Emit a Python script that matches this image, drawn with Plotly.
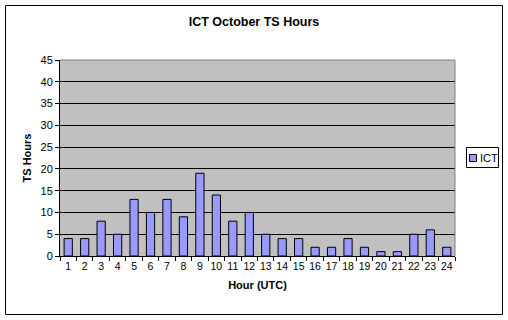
import plotly.graph_objects as go

hours = [str(h) for h in range(1, 25)]
ict = [4, 4, 8, 5, 13, 10, 13, 9, 19, 14, 8, 10, 5, 4, 4, 2, 2, 4, 2, 1, 1, 5, 6, 2]
y_ticks = list(range(0, 50, 5))
series_name = "ICT"

W, H = 508, 320
L, R, T, B = 60, 53, 60, 64
pw, ph = W - L - R, H - T - B

def px(x):
    return (x - L) / pw

def py(y):
    return (H - B - y) / ph

fig = go.Figure()
fig.add_trace(go.Bar(
    x=hours, y=ict, name=series_name,
    marker=dict(color="#9999FF", line=dict(color="black", width=1)),
    width=0.5, showlegend=False,
))

font = "Liberation Sans, Arial, sans-serif"
fig.update_layout(
    width=W, height=H,
    margin=dict(l=L, r=R, t=T, b=B),
    paper_bgcolor="white",
    plot_bgcolor="#C0C0C0",
    font=dict(family=font, size=11, color="black"),
    title=dict(text="<b>ICT October TS Hours</b>", x=0.5, xanchor="center",
               y=1 - 22 / H, yanchor="middle", font=dict(size=12.5)),
    showlegend=False,
    xaxis=dict(
        type="category", showline=True, linecolor="black", linewidth=1,
        ticks="outside", ticklen=4, tickcolor="black", tickson="boundaries",
        showgrid=False, tickangle=0,
        title=dict(text="<b>Hour (UTC)</b>", standoff=10, font=dict(size=11)),
        tickfont=dict(size=10.5),
    ),
    yaxis=dict(
        range=[0, 45], tickvals=y_ticks, showline=True, linecolor="black", linewidth=1,
        ticks="outside", ticklen=4, tickcolor="black",
        showgrid=True, gridcolor="black", gridwidth=1,
        zeroline=False,
        title=dict(text="<b>TS Hours</b>", standoff=6, font=dict(size=11)),
        tickfont=dict(size=11),
    ),
    bargap=0.5,
)

# plot-area border top and right (gray)
fig.add_shape(type="line", xref="paper", yref="paper", x0=0, x1=1, y0=1, y1=1,
              line=dict(color="#808080", width=1))
fig.add_shape(type="line", xref="paper", yref="paper", x0=1, x1=1, y0=0, y1=1,
              line=dict(color="#808080", width=1))
# outer chart border
fig.add_shape(type="rect", xref="paper", yref="paper",
              x0=px(5.5), x1=px(502.5), y0=py(314.5), y1=py(5.5),
              line=dict(color="black", width=1), layer="below")

# legend box
fig.add_shape(type="rect", xref="paper", yref="paper",
              x0=px(466.5), x1=px(498.5), y0=py(167.5), y1=py(147.5),
              line=dict(color="black", width=1), fillcolor="white")
fig.add_shape(type="rect", xref="paper", yref="paper",
              x0=px(469.5), x1=px(476.5), y0=py(161.5), y1=py(154.5),
              line=dict(color="black", width=1), fillcolor="#9999FF")
fig.add_annotation(text=series_name, xref="paper", yref="paper",
                   x=px(477.5), y=py(158), xanchor="left", yanchor="middle",
                   showarrow=False, font=dict(size=11), xshift=0)

fig.write_html("out.html")
